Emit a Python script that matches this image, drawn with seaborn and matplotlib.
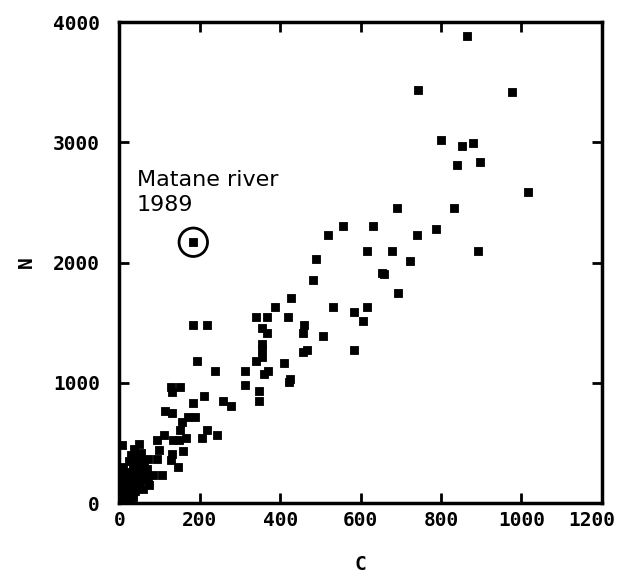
import matplotlib
matplotlib.use("Agg")
import matplotlib.pyplot as plt
import matplotlib.transforms as mtransforms
import seaborn as sns
import pandas as pd

# C (x) and N (y) values
c_vals = [865, 743, 977, 801, 880, 852, 898, 840, 1017, 690, 832, 555, 630, 788, 520, 741,
          617, 679, 892, 489, 724, 652, 659, 482, 692, 427, 387, 531, 617, 583,
          340, 368, 419, 605, 184, 219, 355, 459, 368, 456, 506, 355, 355, 355, 467, 456, 583,
          340, 194, 409, 370, 360, 238, 313, 424, 421, 313, 129, 152, 348, 211, 132, 348, 258,
          184, 277, 114, 132, 188, 172, 157, 152, 218, 244, 165, 205, 110, 134, 148, 95,
          159, 98, 132, 129, 145, 107, 95, 72,
          2, 3, 5, 5, 8, 4, 10, 6, 12, 15, 18, 20, 22, 25, 28, 30, 33, 35, 38, 40, 42, 45, 45,
          48, 50, 52, 55, 55, 58, 60, 62, 65, 68, 70, 72, 35, 40, 25, 30, 48, 36, 10, 2, 15, 20,
          60, 75, 85]
n_vals = [3886, 3437, 3415, 3015, 2991, 2969, 2837, 2815, 2585, 2455, 2455, 2302, 2302, 2277, 2231, 2231,
          2098, 2098, 2098, 2031, 2009, 1917, 1902, 1855, 1745, 1702, 1631, 1631, 1631, 1585,
          1545, 1545, 1545, 1517, 1477, 1477, 1455, 1477, 1415, 1415, 1391, 1323, 1283, 1215, 1277, 1255, 1277,
          1185, 1185, 1163, 1098, 1077, 1098, 1098, 1031, 1009, 985, 963, 963, 929, 892, 923, 852, 852,
          831, 809, 769, 748, 717, 717, 677, 609, 609, 563, 538, 538, 563, 523, 523, 523,
          431, 446, 409, 360, 298, 237, 369, 369,
          20, 60, 100, 150, 200, 250, 300, 480, 40, 120, 80, 180, 260, 30, 140, 220, 90, 320, 200, 150, 260, 380, 300,
          230, 180, 330, 270, 420, 200, 350, 300, 250, 190, 280, 220, 50, 100, 350, 400, 494, 447, 10, 5, 60, 20,
          120, 150, 230]

highlight_c = [184]
highlight_n = [2169]
highlight_label = "Matane river\n1989"

x_ticks = [0, 200, 400, 600, 800, 1000, 1200]
y_ticks = [0, 1000, 2000, 3000, 4000]

df = pd.DataFrame({"C": c_vals, "N": n_vals})
hl = pd.DataFrame({"C": highlight_c, "N": highlight_n})

sns.set_style("white")
plt.rcParams['font.family'] = ['DejaVu Sans']
plt.rcParams['text.color'] = 'black'
plt.rcParams['axes.labelcolor'] = 'black'
plt.rcParams['xtick.color'] = 'black'
plt.rcParams['ytick.color'] = 'black'

fig = plt.figure(figsize=(6.18, 5.79), dpi=100)
ax = fig.add_axes([0.193, 0.131, 0.781, 0.831])

sns.scatterplot(data=df, x="C", y="N", ax=ax, marker="s", s=26, color="black",
                edgecolor="black", linewidth=0.6)
sns.scatterplot(data=hl, x="C", y="N", ax=ax, marker="s", s=26, color="black",
                edgecolor="black", linewidth=0.6)
sns.scatterplot(data=hl, x="C", y="N", ax=ax, marker="o", s=420, facecolor="none",
                edgecolor="black", linewidth=2)

ax.text(44, 2770, highlight_label, fontsize=16, va="top", ha="left",
        family="DejaVu Sans", linespacing=1.3, color="black")

ax.set_xlim(0, 1200)
ax.set_ylim(0, 4000)
ax.set_xticks(x_ticks)
ax.set_yticks(y_ticks)
mono = {"family": "DejaVu Sans Mono", "weight": "bold", "size": 14, "color": "black"}
ax.set_xticklabels([str(v) for v in x_ticks], fontdict=mono)
ax.set_yticklabels([str(v) for v in y_ticks], fontdict=mono)
ax.tick_params(axis="both", direction="in", length=7, width=2, top=True, right=True,
               bottom=True, left=True, color="black", labelcolor="black")
ax.tick_params(axis="x", pad=6)
ax.tick_params(axis="y", pad=14)
for sp in ax.spines.values():
    sp.set_linewidth(2.5)
    sp.set_color("black")

# keep the last x tick label inside the figure
last = ax.get_xticklabels()[-1]
last.set_transform(last.get_transform() + mtransforms.ScaledTranslation(-10 / 100, 0, fig.dpi_scale_trans))

ax.set_xlabel("C", fontdict=mono, labelpad=18)
ax.set_ylabel("N", fontdict=mono, labelpad=12)

fig.savefig("out.png", dpi=100)
